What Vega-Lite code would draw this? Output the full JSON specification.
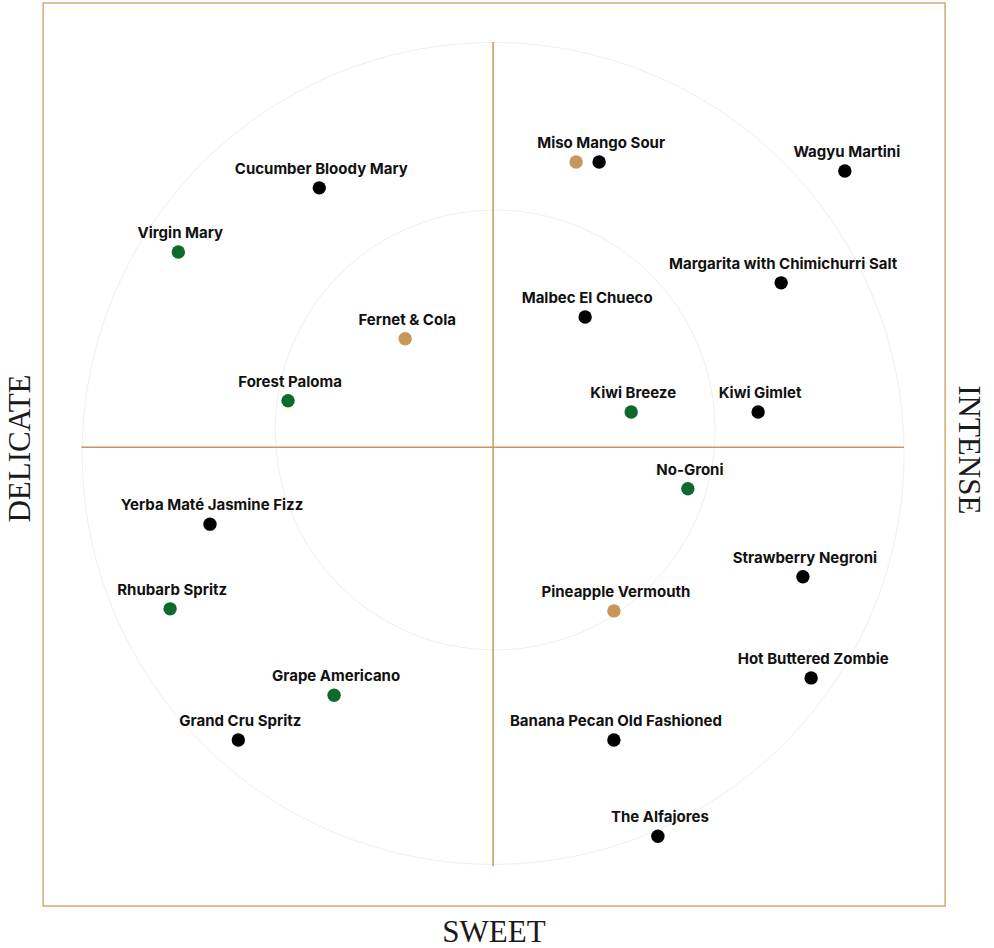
{
  "$schema": "https://vega.github.io/schema/vega-lite/v6.json",
  "width": 994,
  "height": 948,
  "autosize": "none",
  "padding": 0,
  "background": "#ffffff",
  "config": {"view": {"stroke": null}},
  "datasets": {
    "drinks": [
      {"name": "Miso Mango Sour", "x": 2.58, "y": 7.09, "type": "classic"},
      {"name": "", "x": 2.02, "y": 7.09, "type": "signature"},
      {"name": "Wagyu Martini", "x": 8.56, "y": 6.87, "type": "classic"},
      {"name": "Cucumber Bloody Mary", "x": -4.23, "y": 6.46, "type": "classic"},
      {"name": "Virgin Mary", "x": -7.66, "y": 4.9, "type": "zero"},
      {"name": "Margarita with Chimichurri Salt", "x": 7.01, "y": 4.15, "type": "classic"},
      {"name": "Malbec El Chueco", "x": 2.24, "y": 3.32, "type": "classic"},
      {"name": "Fernet & Cola", "x": -2.14, "y": 2.79, "type": "signature"},
      {"name": "Forest Paloma", "x": -4.99, "y": 1.28, "type": "zero"},
      {"name": "Kiwi Breeze", "x": 3.36, "y": 1.01, "type": "zero"},
      {"name": "Kiwi Gimlet", "x": 6.45, "y": 1.01, "type": "classic"},
      {"name": "No-Groni", "x": 4.74, "y": -0.86, "type": "zero"},
      {"name": "Yerba Maté Jasmine Fizz", "x": -6.89, "y": -1.72, "type": "classic"},
      {"name": "Strawberry Negroni", "x": 7.54, "y": -3.0, "type": "classic"},
      {"name": "Rhubarb Spritz", "x": -7.86, "y": -3.78, "type": "zero"},
      {"name": "Pineapple Vermouth", "x": 2.94, "y": -3.83, "type": "signature"},
      {"name": "Hot Buttered Zombie", "x": 7.74, "y": -5.46, "type": "classic"},
      {"name": "Grape Americano", "x": -3.87, "y": -5.88, "type": "zero"},
      {"name": "Grand Cru Spritz", "x": -6.2, "y": -6.97, "type": "classic"},
      {"name": "Banana Pecan Old Fashioned", "x": 2.94, "y": -6.97, "type": "classic"},
      {"name": "The Alfajores", "x": 4.01, "y": -9.31, "type": "classic"}
    ]
  },
  "encoding": {
    "x": {"type": "quantitative", "scale": {"domain": [-12, 12.19], "nice": false, "zero": false}, "axis": null},
    "y": {"type": "quantitative", "scale": {"domain": [-12.03, 11.03], "nice": false, "zero": false}, "axis": null}
  },
  "layer": [
    {
      "data": {"values": [{"x": -10.95, "x2": 11.0, "y": -11.01, "y2": 10.96}]},
      "mark": {"type": "rect", "fill": null, "fillOpacity": 0, "stroke": "#d1ab74", "strokeWidth": 1.5},
      "encoding": {
        "x": {"field": "x", "type": "quantitative"},
        "x2": {"field": "x2"},
        "y": {"field": "y", "type": "quantitative"},
        "y2": {"field": "y2"}
      }
    },
    {
      "data": {"values": [{"x": 0, "y": 0}]},
      "mark": {"type": "point", "shape": "circle", "filled": false, "size": 675684, "stroke": "#efefef", "strokeWidth": 1, "opacity": 1},
      "encoding": {
        "x": {"field": "x", "type": "quantitative"},
        "y": {"field": "y", "type": "quantitative"}
      }
    },
    {
      "data": {"values": [{"x": 0.05, "y": 0.57}]},
      "mark": {"type": "point", "shape": "circle", "filled": false, "size": 193600, "stroke": "#efefef", "strokeWidth": 1, "opacity": 1},
      "encoding": {
        "x": {"field": "x", "type": "quantitative"},
        "y": {"field": "y", "type": "quantitative"}
      }
    },
    {
      "data": {"values": [
        {"x": -10.02, "x2": 10.0, "y": 0.15, "y2": 0.15},
        {"x": 0, "x2": 0, "y": -10.04, "y2": 10.01}
      ]},
      "mark": {"type": "rule", "stroke": "#c9975c", "strokeWidth": 1.5},
      "encoding": {
        "x": {"field": "x", "type": "quantitative"},
        "x2": {"field": "x2"},
        "y": {"field": "y", "type": "quantitative"},
        "y2": {"field": "y2"}
      }
    },
    {
      "data": {"name": "drinks"},
      "mark": {"type": "point", "shape": "circle", "filled": true, "size": 180, "opacity": 1},
      "encoding": {
        "x": {"field": "x", "type": "quantitative"},
        "y": {"field": "y", "type": "quantitative"},
        "color": {"field": "type", "type": "nominal", "legend": null,
          "scale": {"domain": ["classic", "zero", "signature"], "range": ["#000000", "#0b6a2c", "#c9965a"]}}
      }
    },
    {
      "data": {"name": "drinks"},
      "mark": {"type": "text", "font": "Inter", "fontSize": 15, "fontWeight": 700, "fill": "#111111", "align": "center", "baseline": "alphabetic", "dx": 2, "dy": -14},
      "encoding": {
        "x": {"field": "x", "type": "quantitative"},
        "y": {"field": "y", "type": "quantitative"},
        "text": {"field": "name"}
      }
    },
    {
      "data": {"values": [{"label": "DELICATE", "x": -11.27, "y": 0.12}]},
      "mark": {"type": "text", "font": "Liberation Serif", "fontSize": 31, "fill": "#1a1a1a", "angle": 270, "align": "center", "baseline": "alphabetic"},
      "encoding": {
        "x": {"field": "x", "type": "quantitative"},
        "y": {"field": "y", "type": "quantitative"},
        "text": {"field": "label"}
      }
    },
    {
      "data": {"values": [{"label": "INTENSE", "x": 11.34, "y": 0.09}]},
      "mark": {"type": "text", "font": "Liberation Serif", "fontSize": 31, "fill": "#1a1a1a", "angle": 90, "align": "center", "baseline": "alphabetic"},
      "encoding": {
        "x": {"field": "x", "type": "quantitative"},
        "y": {"field": "y", "type": "quantitative"},
        "text": {"field": "label"}
      }
    },
    {
      "data": {"values": [{"label": "SWEET", "x": 0.02, "y": -11.89}]},
      "mark": {"type": "text", "font": "Liberation Serif", "fontSize": 31, "fill": "#1a1a1a", "align": "center", "baseline": "alphabetic"},
      "encoding": {
        "x": {"field": "x", "type": "quantitative"},
        "y": {"field": "y", "type": "quantitative"},
        "text": {"field": "label"}
      }
    }
  ]
}
